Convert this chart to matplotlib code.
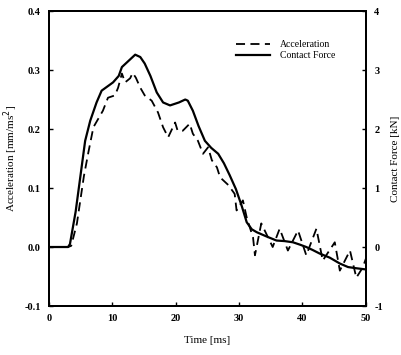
import matplotlib
matplotlib.use("Agg")
import matplotlib.pyplot as plt

# Contact force [kN] (solid)
force_t = [0, 3.0, 3.3, 4.2, 5.7, 6.5, 7.5, 8.3, 9.2, 10.1, 11.0, 11.5, 12.5, 13.6,
           14.4, 15.1, 16.0, 17.0, 18.0, 19.1, 20.5, 21.5, 21.9, 22.7, 23.6, 24.6,
           25.6, 26.7, 27.6, 28.5, 29.5, 30.4, 31.2, 32.0, 32.8, 34.3, 35.9, 37.2,
           38.5, 39.6, 40.6, 41.6, 42.7, 44.3, 45.9, 47.2, 48.5, 50.0]
force_v = [0, 0, 0.05, 0.6, 1.8, 2.14, 2.45, 2.65, 2.72, 2.79, 2.9, 3.05, 3.15, 3.26,
           3.22, 3.11, 2.9, 2.62, 2.45, 2.40, 2.45, 2.50, 2.48, 2.31, 2.05, 1.80,
           1.68, 1.58, 1.42, 1.22, 0.98, 0.70, 0.42, 0.30, 0.25, 0.18, 0.11, 0.10,
           0.08, 0.04, 0.0, -0.05, -0.11, -0.18, -0.28, -0.34, -0.36, -0.38]

# Acceleration [mm/ms^2] (dashed)
acc_t = [0, 3.0, 3.5, 4.4, 5.5, 6.2, 7.0, 8.5, 9.3, 10.4, 10.9, 11.5, 12.0, 12.8,
         13.2, 13.7, 14.4, 15.1, 16.2, 17.2, 18.0, 18.8, 19.9, 20.3, 21.1, 22.2,
         22.7, 23.5, 24.3, 25.1, 25.7, 26.5, 27.0, 28.3, 29.3, 29.6, 30.6, 31.2,
         32.2, 32.5, 33.5, 35.3, 36.4, 37.7, 39.3, 40.6, 42.2, 43.2, 45.1, 45.9,
         47.5, 48.5, 49.5, 50.0]
acc_v = [0, 0, 0.002, 0.04, 0.12, 0.16, 0.203, 0.231, 0.253, 0.257, 0.27, 0.294, 0.279,
         0.286, 0.295, 0.287, 0.27, 0.257, 0.248, 0.228, 0.203, 0.186, 0.211, 0.197,
         0.197, 0.209, 0.192, 0.18, 0.158, 0.169, 0.147, 0.135, 0.118, 0.105, 0.09,
         0.062, 0.079, 0.05, 0.016, -0.014, 0.04, 0.0, 0.031, -0.006, 0.028, -0.014,
         0.031, -0.023, 0.008, -0.04, -0.006, -0.052, -0.035, -0.02]

left_ticks = [-0.1, 0.0, 0.1, 0.2, 0.3, 0.4]
left_labels = ["-0.1", "0.0", "0.1", "0.2", "0.3", "0.4"]
right_ticks = [-1, 0, 1, 2, 3, 4]
x_ticks = [0, 10, 20, 30, 40, 50]

plt.rcParams['font.family'] = ['Liberation Serif', 'DejaVu Serif']

fig = plt.figure(figsize=(4.02, 3.55), dpi=100)
ax = fig.add_axes([0.122, 0.138, 0.788, 0.831])
ax2 = ax.twinx()

la, = ax.plot(acc_t, acc_v, color='black', lw=1.3, ls=(0, (5, 3)))
lf, = ax2.plot(force_t, force_v, color='black', lw=1.6)

ax.set_xlim(0, 50)
ax.set_ylim(-0.1, 0.4)
ax2.set_ylim(-1, 4)
ax.set_xticks(x_ticks)
ax.set_xticklabels([str(t) for t in x_ticks], fontsize=7.5, fontweight='bold')
ax.set_yticks(left_ticks)
ax.set_yticklabels(left_labels, fontsize=7.5, fontweight='bold')
ax2.set_yticks(right_ticks)
ax2.set_yticklabels([str(t) for t in right_ticks], fontsize=7.5, fontweight='bold')

for a in (ax, ax2):
    a.tick_params(direction='in', length=3, width=1, pad=6)
    for s in a.spines.values():
        s.set_linewidth(1.4)

ax.set_xlabel("Time [ms]", fontsize=8, labelpad=9)
ax.set_ylabel("Acceleration [mm/ms$^2$]", fontsize=8, labelpad=3)
ax2.set_ylabel("Contact Force [kN]", fontsize=8, labelpad=6)

ax.legend([la, lf], ["Acceleration", "Contact Force"], loc='upper right',
          bbox_to_anchor=(0.93, 0.93), frameon=False, fontsize=7,
          handlelength=3.5, handletextpad=1.0, labelspacing=0.2)

fig.savefig("out.png", dpi=100)
